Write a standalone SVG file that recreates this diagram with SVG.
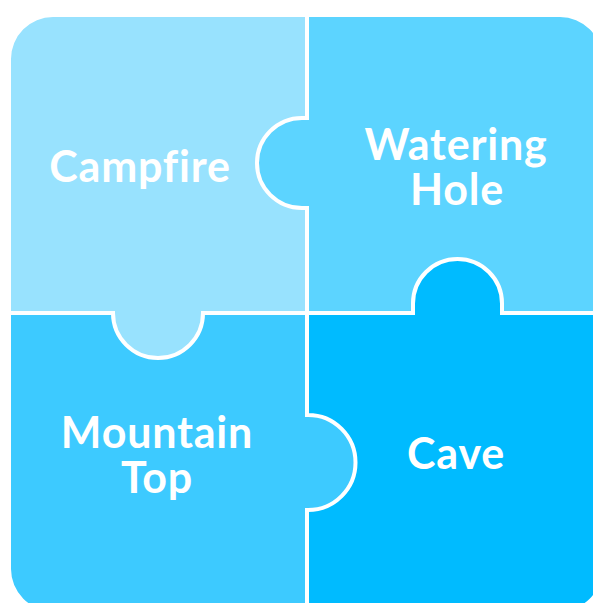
<svg xmlns="http://www.w3.org/2000/svg" width="593" height="603" viewBox="0 0 593 603">
<style>
.lbl{font-family:Lato,"Noto Sans","DejaVu Sans",sans-serif;font-weight:700;font-size:43px;letter-spacing:0.8px;fill:#ffffff;text-anchor:middle}
.seam{fill:none;stroke:#ffffff;stroke-width:4;stroke-linejoin:miter}
</style>
<rect width="593" height="603" fill="#ffffff"/>
<g id="campfire">
<path fill="#98E2FE" d="M11,59 A42,42 0 0 1 53,17 L307,17 L307,118 L302,118 A45,45 0 0 0 302,208 L307,208 L307,313 L203,313 A45,45 0 0 1 113,313 L11,313 Z"/>
<text class="lbl" x="140" y="182">Campfire</text>
</g>
<g id="watering-hole">
<path fill="#5CD4FF" d="M307,17 L560,17 A42,42 0 0 1 602,59 L602,313 L502,313 L502,303.5 A44.5,44.5 0 0 0 413,303.5 L413,313 L307,313 L307,208 L302,208 A45,45 0 0 1 302,118 L307,118 Z"/>
<text class="lbl"><tspan x="456" y="160">Watering</tspan><tspan x="457" y="205">Hole</tspan></text>
</g>
<g id="mountain-top">
<path fill="#3DCAFF" d="M11,313 L113,313 A45,45 0 0 0 203,313 L307,313 L307,415 L308,415 A47.5,47.5 0 0 1 308,510 L307,510 L307,611 L53,611 A42,42 0 0 1 11,569 Z"/>
<text class="lbl"><tspan x="157" y="448">Mountain</tspan><tspan x="157" y="493">Top</tspan></text>
</g>
<g id="cave">
<path fill="#00BBFF" d="M307,313 L413,313 L413,303.5 A44.5,44.5 0 0 1 502,303.5 L502,313 L602,313 L602,569 A42,42 0 0 1 560,611 L307,611 L307,510 L308,510 A47.5,47.5 0 0 0 308,415 L307,415 Z"/>
<text class="lbl" x="456" y="469">Cave</text>
</g>
<g id="seams">
<path class="seam" d="M307,17 L307,118 L302,118 A45,45 0 0 0 302,208 L307,208 L307,415 L308,415 A47.5,47.5 0 0 1 308,510 L307,510 L307,611"/>
<path class="seam" d="M11,313 L113,313 A45,45 0 0 0 203,313 L413,313 L413,303.5 A44.5,44.5 0 0 1 502,303.5 L502,313 L602,313"/>
</g>
</svg>
